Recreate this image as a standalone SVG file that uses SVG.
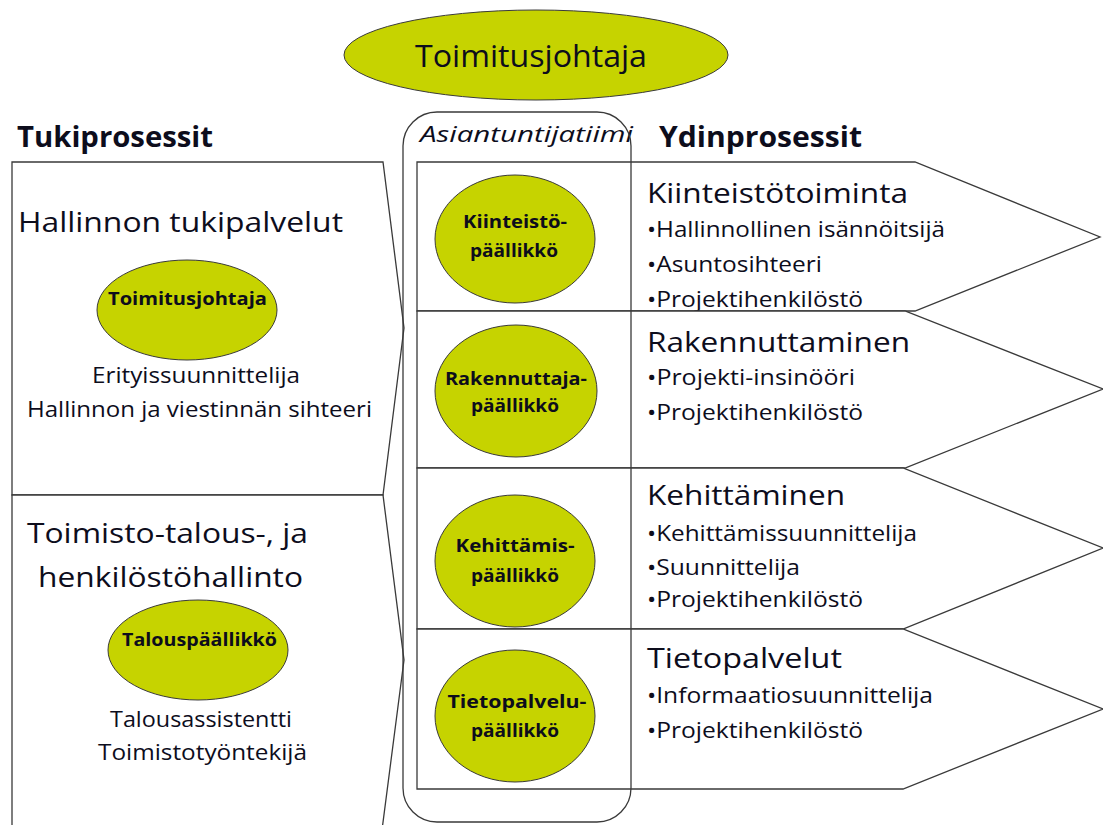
<svg xmlns="http://www.w3.org/2000/svg" width="1103" height="825" viewBox="0 0 1103 825">
<style>
.bg{fill:#fff}
.shape{fill:#fff;stroke:#3a3a3a;stroke-width:1.3}
.team{fill:none;stroke:#3a3a3a;stroke-width:1.3}
.oval{fill:#c6d300;stroke:#3a3a3a;stroke-width:1}
text{font-family:"Open Sans","Noto Sans","Liberation Sans",sans-serif;fill:#0d0d1c}
.title{font-size:31px}
.head{font-size:28px;font-weight:bold}
.ital{font-size:22px;font-style:italic}
.big{font-size:28px}
.mid{font-size:22px}
.bul{font-size:22px}
.small{font-size:18px;font-weight:bold}
.c{text-anchor:middle}
</style>
<rect class="bg" width="1103" height="825"/>
<g id="toimitusjohtaja-top">
<ellipse class="oval" cx="536" cy="55" rx="192" ry="45"/>
<text class="title c" x="531" y="67" textLength="232" lengthAdjust="spacingAndGlyphs">Toimitusjohtaja</text>
</g>
<g id="headers">
<text class="head" x="17" y="147" textLength="196" lengthAdjust="spacingAndGlyphs">Tukiprosessit</text>
<text class="ital" x="420" y="142" textLength="213" lengthAdjust="spacingAndGlyphs">Asiantuntijatiimi</text>
<text class="head" x="659" y="147" textLength="203" lengthAdjust="spacingAndGlyphs">Ydinprosessit</text>
</g>
<g id="hallinnon-tukipalvelut">
<polygon class="shape" points="12,162 383,162 404,328 383,495 12,495"/>
<text class="big" x="18" y="232" textLength="325" lengthAdjust="spacingAndGlyphs">Hallinnon tukipalvelut</text>
<ellipse class="oval" cx="187" cy="310" rx="90" ry="50"/>
<text class="small c" x="187.5" y="305" textLength="159" lengthAdjust="spacingAndGlyphs">Toimitusjohtaja</text>
<text class="mid c" x="196" y="383" textLength="208" lengthAdjust="spacingAndGlyphs">Erityissuunnittelija</text>
<text class="mid c" x="199.5" y="417" textLength="345" lengthAdjust="spacingAndGlyphs">Hallinnon ja viestinnän sihteeri</text>
</g>
<g id="toimisto-talous">
<polygon class="shape" points="12,495 383,495 404,660 382,830 12,830"/>
<text class="big" x="27" y="543" textLength="281" lengthAdjust="spacingAndGlyphs">Toimisto-talous-, ja</text>
<text class="big" x="38" y="587" textLength="265" lengthAdjust="spacingAndGlyphs">henkilöstöhallinto</text>
<ellipse class="oval" cx="198" cy="650" rx="90" ry="50"/>
<text class="small c" x="199.5" y="646" textLength="155" lengthAdjust="spacingAndGlyphs">Talouspäällikkö</text>
<text class="mid c" x="201" y="727" textLength="182" lengthAdjust="spacingAndGlyphs">Talousassistentti</text>
<text class="mid c" x="202.5" y="760" textLength="209" lengthAdjust="spacingAndGlyphs">Toimistotyöntekijä</text>
</g>
<g id="kiinteistotoiminta">
<polygon class="shape" points="417,162 915,162 1100,237 915,311 417,311"/>
<ellipse class="oval" cx="515" cy="239" rx="80" ry="64"/>
<text class="small c" x="515" y="228" textLength="104" lengthAdjust="spacingAndGlyphs">Kiinteistö-</text>
<text class="small c" x="514" y="257" textLength="88" lengthAdjust="spacingAndGlyphs">päällikkö</text>
<text class="big" x="647" y="203" textLength="261" lengthAdjust="spacingAndGlyphs">Kiinteistötoiminta</text>
<text class="bul" x="647" y="237" textLength="298" lengthAdjust="spacingAndGlyphs">•Hallinnollinen isännöitsijä</text>
<text class="bul" x="647" y="272" textLength="175" lengthAdjust="spacingAndGlyphs">•Asuntosihteeri</text>
<text class="bul" x="647" y="307" textLength="216" lengthAdjust="spacingAndGlyphs">•Projektihenkilöstö</text>
</g>
<g id="rakennuttaminen">
<polygon class="shape" points="417,311 905,311 1103,389 905,468 417,468"/>
<ellipse class="oval" cx="516" cy="391" rx="81" ry="66"/>
<text class="small c" x="516" y="385" textLength="142" lengthAdjust="spacingAndGlyphs">Rakennuttaja-</text>
<text class="small c" x="515" y="412" textLength="88" lengthAdjust="spacingAndGlyphs">päällikkö</text>
<text class="big" x="647" y="352" textLength="263" lengthAdjust="spacingAndGlyphs">Rakennuttaminen</text>
<text class="bul" x="647" y="385" textLength="208" lengthAdjust="spacingAndGlyphs">•Projekti-insinööri</text>
<text class="bul" x="647" y="420" textLength="216" lengthAdjust="spacingAndGlyphs">•Projektihenkilöstö</text>
</g>
<g id="kehittaminen">
<polygon class="shape" points="417,468 903,468 1103,548 903,629 417,629"/>
<ellipse class="oval" cx="515" cy="561" rx="80" ry="66"/>
<text class="small c" x="515" y="552" textLength="119" lengthAdjust="spacingAndGlyphs">Kehittämis-</text>
<text class="small c" x="515" y="582" textLength="88" lengthAdjust="spacingAndGlyphs">päällikkö</text>
<text class="big" x="647" y="505" textLength="198" lengthAdjust="spacingAndGlyphs">Kehittäminen</text>
<text class="bul" x="647" y="541" textLength="270" lengthAdjust="spacingAndGlyphs">•Kehittämissuunnittelija</text>
<text class="bul" x="647" y="575" textLength="153" lengthAdjust="spacingAndGlyphs">•Suunnittelija</text>
<text class="bul" x="647" y="607" textLength="216" lengthAdjust="spacingAndGlyphs">•Projektihenkilöstö</text>
</g>
<g id="tietopalvelut">
<polygon class="shape" points="417,629 903,629 1103,709 903,789 417,789"/>
<ellipse class="oval" cx="515" cy="716" rx="80" ry="66"/>
<text class="small c" x="517" y="708" textLength="139" lengthAdjust="spacingAndGlyphs">Tietopalvelu-</text>
<text class="small c" x="515" y="737" textLength="88" lengthAdjust="spacingAndGlyphs">päällikkö</text>
<text class="big" x="647" y="668" textLength="195" lengthAdjust="spacingAndGlyphs">Tietopalvelut</text>
<text class="bul" x="647" y="703" textLength="286" lengthAdjust="spacingAndGlyphs">•Informaatiosuunnittelija</text>
<text class="bul" x="647" y="738" textLength="216" lengthAdjust="spacingAndGlyphs">•Projektihenkilöstö</text>
</g>
<g id="asiantuntijatiimi">
<rect class="team" x="403" y="112" width="228" height="710" rx="34" ry="34"/>
</g>
<g id="connectors"></g>
</svg>
